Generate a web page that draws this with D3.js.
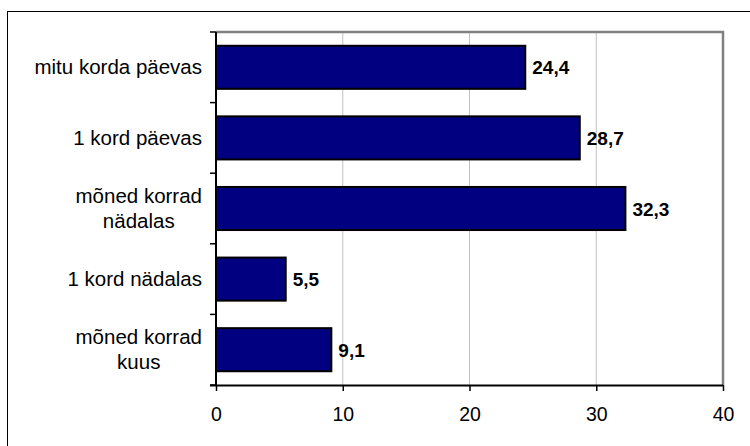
<!DOCTYPE html>
<html>
<head>
<meta charset="utf-8">
<script src="https://cdn.jsdelivr.net/npm/d3@7"></script>
<style>
  body { margin: 0; background: #fff; }
  svg { display: block; }
</style>
</head>
<body>
<div id="chart"></div>
<script>
// data
const categories = ["mitu korda päevas", "1 kord päevas", "mõned korrad\nnädalas", "1 kord nädalas", "mõned korrad\nkuus"];
const values = [24.4, 28.7, 32.3, 5.5, 9.1];
const xTicks = [0, 10, 20, 30, 40];

const width = 750, height = 446;
const plot = { left: 216, right: 723, top: 32, bottom: 385 };
const font = "'Liberation Sans', Arial, sans-serif";

const svg = d3.select("#chart").append("svg")
    .attr("width", width)
    .attr("height", height)
    .style("font-family", font);

// outer frame (right/bottom fall outside the picture)
svg.append("rect")
    .attr("x", 7.5).attr("y", 11.5)
    .attr("width", 760).attr("height", 460)
    .attr("fill", "#fff")
    .attr("stroke", "#000")
    .attr("stroke-width", 1);

const x = d3.scaleLinear().domain([0, 40]).range([plot.left, plot.right]);
const y = d3.scaleBand()
    .domain(categories)
    .range([plot.top, plot.bottom])
    .paddingInner(0.39)
    .paddingOuter(0.195);

// gridlines
svg.append("g").selectAll("line")
    .data(xTicks.filter(d => d > 0 && d < 40))
    .join("line")
    .attr("x1", d => x(d)).attr("x2", d => x(d))
    .attr("y1", plot.top).attr("y2", plot.bottom)
    .attr("stroke", "#c0c0c0")
    .attr("stroke-width", 1);

// plot area border top/right (grey)
svg.append("path")
    .attr("d", `M${plot.left},${plot.top} H${plot.right} V${plot.bottom}`)
    .attr("fill", "none")
    .attr("stroke", "#808080")
    .attr("stroke-width", 2.5);

// bars
svg.append("g").selectAll("rect")
    .data(values)
    .join("rect")
    .attr("x", x(0))
    .attr("y", (d, i) => y(categories[i]))
    .attr("width", d => x(d) - x(0))
    .attr("height", y.bandwidth())
    .attr("fill", "#000080")
    .attr("stroke", "#000")
    .attr("stroke-width", 2);

// value labels
svg.append("g").selectAll("text")
    .data(values)
    .join("text")
    .attr("x", d => x(d) + 7)
    .attr("y", (d, i) => y(categories[i]) + y.bandwidth() / 2 + 7)
    .attr("font-size", 19)
    .attr("font-weight", "bold")
    .attr("fill", "#000")
    .text(d => d3.format(".1f")(d).replace(".", ","));

// x axis
const xAxis = svg.append("g")
    .attr("transform", `translate(0,${plot.bottom})`)
    .call(d3.axisBottom(x).tickValues(xTicks).tickSize(6).tickPadding(16).tickSizeOuter(0));
xAxis.select(".domain").attr("stroke", "#000").attr("stroke-width", 2)
    .attr("d", `M${plot.left - 6},0.5H${plot.right}`);
xAxis.selectAll(".tick line").attr("stroke", "#000").attr("stroke-width", 1.5);
xAxis.selectAll(".tick text")
    .attr("font-size", 19.5)
    .attr("font-family", font)
    .attr("fill", "#000");

// y axis line and ticks at band edges
const step = y.step();
const edges = d3.range(categories.length + 1).map(i => plot.top + i * step);
svg.append("line")
    .attr("x1", plot.left).attr("x2", plot.left)
    .attr("y1", plot.top).attr("y2", plot.bottom)
    .attr("stroke", "#000").attr("stroke-width", 2);
svg.append("g").selectAll("line")
    .data(edges)
    .join("line")
    .attr("x1", plot.left - 6).attr("x2", plot.left)
    .attr("y1", d => d).attr("y2", d => d)
    .attr("stroke", "#000").attr("stroke-width", 1.5);

// category labels (multi-line centred, block right-aligned)
const labelRight = 202;
const lineH = 25;
categories.forEach(c => {
    const lines = c.split("\n");
    const cy = y(c) + y.bandwidth() / 2;
    const t = svg.append("text")
        .attr("font-size", 20.5)
        .attr("fill", "#000")
        .attr("text-anchor", "middle");
    lines.forEach((ln, j) => {
        t.append("tspan")
            .attr("x", 0)
            .attr("y", cy + 7 + (j - (lines.length - 1) / 2) * lineH)
            .text(ln);
    });
    const w = t.node().getBBox().width;
    t.selectAll("tspan").attr("x", labelRight - w / 2);
});
</script>
</body>
</html>
